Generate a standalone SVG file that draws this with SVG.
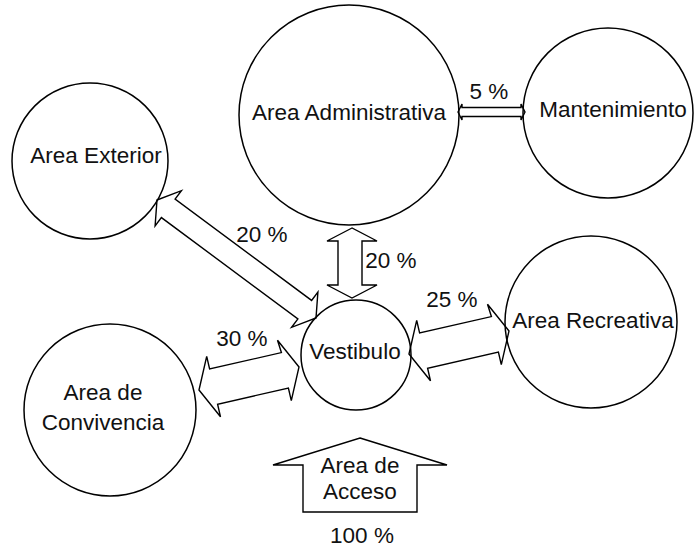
<svg xmlns="http://www.w3.org/2000/svg" width="694" height="549" viewBox="0 0 694 549">
<style>
.node{fill:none;stroke:#000;stroke-width:1.5}
.arr{fill:none;stroke:#000;stroke-width:1.4;stroke-linejoin:miter}
text{font-family:"Liberation Sans",Arial,sans-serif;font-size:22.5px;fill:#111;text-anchor:middle}
</style>
<rect width="694" height="549" fill="#fff"/>
<g id="connectors">
<polygon id="c-admin-mant" class="arr" points="458,112 462,104 462,107.5 521,107.5 521,104 525,112 521,120 521,116.5 462,116.5 462,120"/>
<polygon id="c-admin-vest" class="arr" points="352,228 327,241 338,241 338,285 327,285 352,298 377,285 362,285 362,241 377,241"/>
<polygon id="c-ext-vest" class="arr" points="157,200 181.4,190.7 175.1,199.1 311.6,300.4 317.9,292 316,318 291.6,327.3 297.9,318.9 161.4,217.6 155.1,226"/>
<polygon id="c-vest-rec" class="arr" points="409,354 416.7,320.4 419.6,333 491.4,316.6 487.5,304.2 509,331 501.3,364.6 498.4,352 427.6,368.2 430.5,380.8"/>
<polygon id="c-conv-vest" class="arr" points="199,390 206.7,356.4 209.6,369 281.4,352.6 277.5,340.2 299,367 291.3,400.6 288.4,388 217.6,404.2 220.5,416.8"/>
<polygon id="c-acceso" class="arr" points="360,438 447,465 417,465 417,512 303,512 303,465 273,465"/>
<text x="489" y="99">5 %</text>
<text x="391" y="268">20 %</text>
<text x="262" y="242">20 %</text>
<text x="452" y="307">25 %</text>
<text x="242" y="346">30 %</text>
<text x="360" y="473">Area de</text>
<text x="360" y="499">Acceso</text>
<text x="362" y="543">100 %</text>
</g>
<g id="n-admin"><circle class="node" cx="349" cy="115" r="110"/><text x="349" y="120">Area Administrativa</text></g>
<g id="n-mant"><circle class="node" cx="608" cy="113" r="85"/><text x="613" y="117">Mantenimiento</text></g>
<g id="n-ext"><circle class="node" cx="90" cy="161" r="78"/><text x="96" y="163">Area Exterior</text></g>
<g id="n-vest"><circle class="node" cx="356" cy="355" r="55"/><text x="355" y="359">Vestibulo</text></g>
<g id="n-rec"><circle class="node" cx="591" cy="322" r="86"/><text x="593" y="328">Area Recreativa</text></g>
<g id="n-conv"><circle class="node" cx="110" cy="410" r="86"/><text x="103" y="400">Area de</text><text x="103" y="430">Convivencia</text></g>
</svg>
